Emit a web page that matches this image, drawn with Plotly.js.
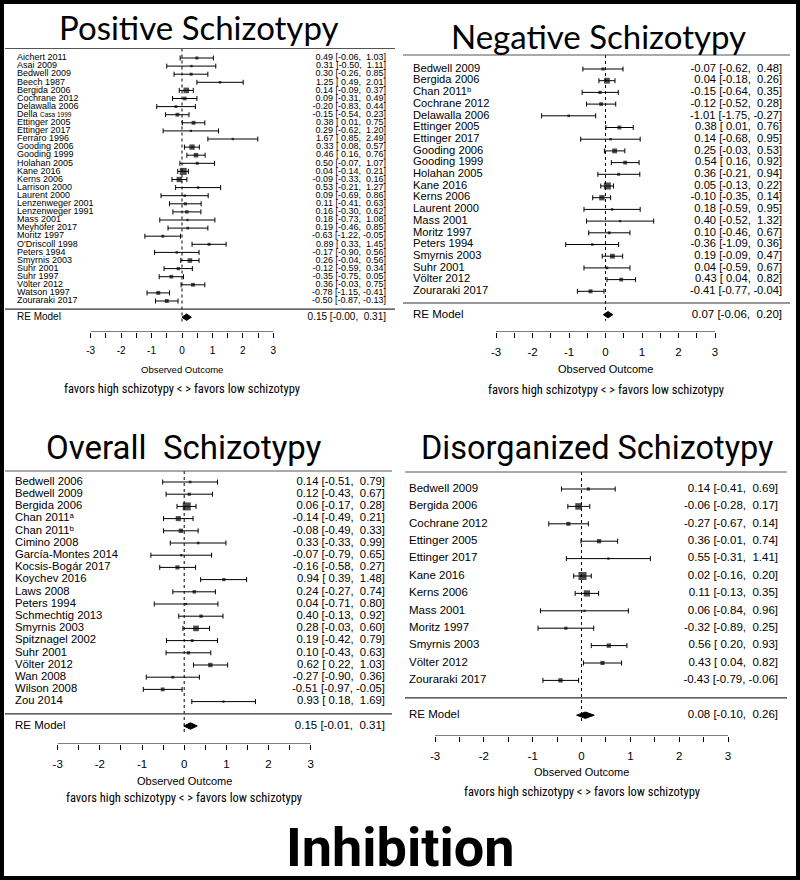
<!DOCTYPE html>
<html><head><meta charset="utf-8">
<script src="https://cdn.plot.ly/plotly-3.0.1.min.js"></script>
<style>html,body{margin:0;padding:0;background:#fff}#chart{width:800px;height:880px}</style>
</head><body><div id="chart"></div>
<script>
// ---------------- DATA ----------------
const posStudies = ['Aichert 2011','Asai 2009','Bedwell 2009','Beech 1987','Bergida 2006','Cochrane 2012','Delawalla 2006',
  'Della <span style="font-size:6.5px">Casa 1999</span>','Ettinger 2005','Ettinger 2017','Ferraro 1996','Gooding 2006','Gooding 1999','Holahan 2005',
  'Kane 2016','Kerns 2006','Larrison 2000','Laurent 2000','Lenzenweger 2001','Lenzenweger 1991','Mass 2001','Meyhöfer 2017',
  'Moritz 1997',"O'Driscoll 1998",'Peters 1994','Smyrnis 2003','Suhr 2001','Suhr 1997','Völter 2012','Watson 1997','Zouraraki 2017'];
const posEst   = [0.49,0.31,0.30,1.25,0.14,0.09,-0.20,-0.15,0.38,0.29,1.67,0.33,0.46,0.50,0.04,-0.09,0.53,0.09,0.11,0.16,0.18,0.19,-0.63,0.89,-0.17,0.26,-0.12,-0.35,0.36,-0.78,-0.50];
const posLower = [-0.06,-0.50,-0.26,0.49,-0.09,-0.31,-0.83,-0.54,0.01,-0.62,0.85,0.08,0.16,-0.07,-0.14,-0.33,-0.21,-0.69,-0.41,-0.30,-0.73,-0.46,-1.22,0.33,-0.90,-0.04,-0.59,-0.75,-0.03,-1.15,-0.87];
const posUpper = [1.03,1.11,0.85,2.01,0.37,0.49,0.44,0.23,0.75,1.20,2.49,0.57,0.76,1.07,0.21,0.16,1.27,0.86,0.63,0.62,1.08,0.85,-0.05,1.45,0.56,0.56,0.34,0.05,0.75,-0.41,-0.13];
const posRE = [0.15, -0.00, 0.31];

const negStudies = ['Bedwell 2009','Bergida 2006','Chan 2011ᵇ','Cochrane 2012','Delawalla 2006','Ettinger 2005','Ettinger 2017',
  'Gooding 2006','Gooding 1999','Holahan 2005','Kane 2016','Kerns 2006','Laurent 2000','Mass 2001','Moritz 1997','Peters 1994',
  'Smyrnis 2003','Suhr 2001','Völter 2012','Zouraraki 2017'];
const negEst   = [-0.07,0.04,-0.15,-0.12,-1.01,0.38,0.14,0.25,0.54,0.36,0.05,-0.10,0.18,0.40,0.10,-0.36,0.19,0.04,0.43,-0.41];
const negLower = [-0.62,-0.18,-0.64,-0.52,-1.75,0.01,-0.68,-0.03,0.16,-0.21,-0.13,-0.35,-0.59,-0.52,-0.46,-1.09,-0.09,-0.59,0.04,-0.77];
const negUpper = [0.48,0.26,0.35,0.28,-0.27,0.76,0.95,0.53,0.92,0.94,0.22,0.14,0.95,1.32,0.67,0.36,0.47,0.67,0.82,-0.04];
const negRE = [0.07, -0.06, 0.20];

const ovStudies = ['Bedwell 2006','Bedwell 2009','Bergida 2006','Chan 2011ᵃ','Chan 2011ᵇ','Cimino 2008',
  'García-Montes 2014','Kocsis-Bogár 2017','Koychev 2016','Laws 2008','Peters 1994','Schmechtig 2013','Smyrnis 2003',
  'Spitznagel 2002','Suhr 2001','Völter 2012','Wan 2008','Wilson 2008','Zou 2014'];
const ovEst   = [0.14,0.12,0.06,-0.14,-0.08,0.33,-0.07,-0.16,0.94,0.24,0.04,0.40,0.28,0.19,0.10,0.62,-0.27,-0.51,0.93];
const ovLower = [-0.51,-0.43,-0.17,-0.49,-0.49,-0.33,-0.79,-0.58,0.39,-0.27,-0.71,-0.13,-0.03,-0.42,-0.43,0.22,-0.90,-0.97,0.18];
const ovUpper = [0.79,0.67,0.28,0.21,0.33,0.99,0.65,0.27,1.48,0.74,0.80,0.92,0.60,0.79,0.63,1.03,0.36,-0.05,1.69];
const ovRE = [0.15, -0.01, 0.31];

const disStudies = ['Bedwell 2009','Bergida 2006','Cochrane 2012','Ettinger 2005','Ettinger 2017','Kane 2016','Kerns 2006',
  'Mass 2001','Moritz 1997','Smyrnis 2003','Völter 2012','Zouraraki 2017'];
const disEst   = [0.14,-0.06,-0.27,0.36,0.55,0.02,0.11,0.06,-0.32,0.56,0.43,-0.43];
const disLower = [-0.41,-0.28,-0.67,-0.01,-0.31,-0.16,-0.13,-0.84,-0.89,0.20,0.04,-0.79];
const disUpper = [0.69,0.17,0.14,0.74,1.41,0.20,0.35,0.96,0.25,0.93,0.82,-0.06];
const disRE = [0.08, -0.10, 0.26];

const tickVals = [-3,-2.5,-2,-1.5,-1,-0.5,0,0.5,1,1.5,2,2.5,3];
const tickText = ['-3',' ','-2',' ','-1',' ','0',' ','1',' ','2',' ','3'];
const axisTitle = 'Observed Outcome';
const favorsText = 'favors high schizotypy &lt; &gt; favors low schizotypy';
const mainTitle = 'Inhibition';

// ---------------- LAYOUT SPECS (pixels) ----------------
const W = 800, H = 880;
const panels = [
 {title:'Positive Schizotypy', studies:posStudies, est:posEst, lo:posLower, hi:posUpper, re:posRE,
  xm3:90.7, xp3:273.3, labelX:17, valueX:386, left:5, right:395, titleX:198, titleY:27, titleSize:33, titleFont:'Lato',
  sepY:48.5, first:58, step:8.1, axisY:332, obsY:370, favY:388, fs:9, reFs:10, maxS:7},
 {title:'Negative Schizotypy', studies:negStudies, est:negEst, lo:negLower, hi:negUpper, re:negRE,
  xm3:496, xp3:715, labelX:413, valueX:782, left:403, right:790, titleX:598, titleY:36, titleSize:33, titleFont:'Lato',
  sepY:55, first:69, step:11.7, axisY:332, obsY:369, favY:389, fs:11.2, reFs:11.5, maxS:7},
 {title:'Overall  Schizotypy', studies:ovStudies, est:ovEst, lo:ovLower, hi:ovUpper, re:ovRE,
  xm3:57.7, xp3:310.7, labelX:15, valueX:385, left:5, right:392, titleX:184, titleY:447, titleSize:33, titleFont:'Roboto',
  sepY:471, first:482, step:12.2, axisY:744, obsY:781, favY:797, fs:11.3, reFs:11.5, maxS:8},
 {title:'Disorganized Schizotypy', studies:disStudies, est:disEst, lo:disLower, hi:disUpper, re:disRE,
  xm3:435, xp3:728, labelX:409, valueX:778, left:405, right:787, titleX:597, titleY:448, titleSize:32.5, titleFont:'Roboto',
  sepY:472, first:489, step:17.4, axisY:736, obsY:772, favY:791, fs:11.5, reFs:11.5, maxS:8}
];

const FONT = 'Liberation Sans, Arial, DejaVu Sans, sans-serif';
const NARROW = 'Liberation Sans Narrow, Roboto Condensed, Roboto, sans-serif';

function fmt(v){ return (v < 0 || Object.is(v, -0)) ? '-' + Math.abs(v).toFixed(2) : v.toFixed(2); }
function pad(s, w){ while (s.length < w) s = ' ' + s; return s; }

const traces = [], shapes = [], annotations = [];
const layout = {width:W, height:H, margin:{l:0,r:0,t:0,b:0}, paper_bgcolor:'#fff', plot_bgcolor:'rgba(0,0,0,0)',
  showlegend:false, hovermode:false};

panels.forEach((p, i) => {
  const sfx = i === 0 ? '' : String(i + 1);
  const xa = 'x' + sfx, ya = 'y' + sfx;
  const n = p.studies.length;
  const unit = (p.xp3 - p.xm3) / 6;
  const zeroPx = (p.xm3 + p.xp3) / 2;
  const px2x = px => (px - zeroPx) / unit;
  const vOf = py => n - (py - p.first) / p.step;
  const vTop = vOf(p.sepY), vBot = vOf(p.axisY);
  const reV = -1;
  const rows = p.studies.map((_, k) => n - k);

  layout['xaxis' + sfx] = {domain:[p.left / W, p.right / W], range:[px2x(p.left), px2x(p.right)], anchor:ya,
    showgrid:false, zeroline:false, showline:false, ticks:'outside', ticklen:5, tickwidth:1, tickcolor:'#000',
    tickmode:'array', tickvals:tickVals, ticktext:tickText, ticklabelstandoff:4,
    tickfont:{family:FONT, size:p.reFs, color:'#000'}, fixedrange:true};
  layout['yaxis' + sfx] = {domain:[1 - p.axisY / H, 1 - p.sepY / H], range:[vBot, vTop], anchor:xa, visible:false, fixedrange:true};

  // axis line from -3 to 3
  shapes.push({type:'line', xref:xa, yref:ya, x0:tickVals[0], x1:tickVals[tickVals.length - 1], y0:vBot, y1:vBot,
    line:{color:'#000', width:1}});

  // marker sizes from inverse standard error
  const w = p.lo.map((l, k) => 3.92 / (p.hi[k] - l));
  const wmin = Math.min(...w), wmax = Math.max(...w);
  const sizes = w.map(v => 2.3 + (v - wmin) / (wmax - wmin) * (p.maxS - 2.3));

  traces.push({type:'scatter', mode:'markers', xaxis:xa, yaxis:ya, x:p.est, y:rows,
    marker:{symbol:'square', color:'#000', size:sizes, line:{width:0}},
    error_x:{type:'data', symmetric:false, array:p.hi.map((h, k) => h - p.est[k]), arrayminus:p.lo.map((l, k) => p.est[k] - l),
      color:'#000', thickness:1, width:2.5},
    cliponaxis:false, hoverinfo:'skip'});

  // RE diamond
  const h = 3.2 / p.step;
  traces.push({type:'scatter', mode:'lines', xaxis:xa, yaxis:ya,
    x:[p.re[1], p.re[0], p.re[2], p.re[0], p.re[1]], y:[reV, reV + h, reV, reV - h, reV],
    fill:'toself', fillcolor:'#000', line:{color:'#000', width:1}, cliponaxis:false, hoverinfo:'skip'});

  // value column strings
  const estS = p.est.concat([p.re[0]]).map(fmt);
  const loS = p.lo.concat([p.re[1]]).map(fmt);
  const hiS = p.hi.concat([p.re[2]]).map(fmt);
  const wE = Math.max(...estS.map(s => s.length)), wL = Math.max(...loS.map(s => s.length)), wH = Math.max(...hiS.map(s => s.length));
  const vals = estS.map((s, k) => pad(s, wE) + ' [' + pad(loS[k], wL) + ', ' + pad(hiS[k], wH) + ']');

  // study labels and values
  traces.push({type:'scatter', mode:'text', xaxis:xa, yaxis:ya,
    x:rows.map(() => px2x(p.labelX)), y:rows, text:p.studies, textposition:'middle right',
    textfont:{family:FONT, size:p.fs, color:'#000'}, cliponaxis:false, hoverinfo:'skip'});
  traces.push({type:'scatter', mode:'text', xaxis:xa, yaxis:ya,
    x:rows.map(() => px2x(p.valueX)), y:rows, text:vals.slice(0, n), textposition:'middle left',
    textfont:{family:FONT, size:p.fs, color:'#000'}, cliponaxis:false, hoverinfo:'skip'});
  // RE row texts
  traces.push({type:'scatter', mode:'text', xaxis:xa, yaxis:ya,
    x:[px2x(p.labelX)], y:[reV], text:['RE Model'], textposition:'middle right',
    textfont:{family:FONT, size:p.reFs, color:'#000'}, cliponaxis:false, hoverinfo:'skip'});
  traces.push({type:'scatter', mode:'text', xaxis:xa, yaxis:ya,
    x:[px2x(p.valueX)], y:[reV], text:[vals[n]], textposition:'middle left',
    textfont:{family:FONT, size:p.reFs, color:'#000'}, cliponaxis:false, hoverinfo:'skip'});

  // reference dotted line at 0
  shapes.push({type:'line', xref:xa, yref:ya, x0:0, x1:0, y0:vTop, y1:reV - 6 / p.step, line:{color:'#000', width:1, dash:'dot'}});
  // separator above RE
  shapes.push({type:'line', xref:'paper', yref:ya, x0:p.left / W, x1:p.right / W, y0:0, y1:0, line:{color:'#333', width:1.2}});
  // separator under title
  shapes.push({type:'line', xref:'paper', yref:'paper', x0:p.left / W, x1:p.right / W, y0:1 - p.sepY / H, y1:1 - p.sepY / H, line:{color:'#555', width:1.2}});

  annotations.push({xref:'paper', yref:'paper', x:p.titleX / W, y:1 - p.titleY / H, xanchor:'center', yanchor:'middle',
    text:p.title, showarrow:false, font:{family:p.titleFont, size:p.titleSize, color:'#000'}});
  annotations.push({xref:'paper', yref:'paper', x:zeroPx / W, y:1 - p.obsY / H, xanchor:'center', yanchor:'middle',
    text:axisTitle, showarrow:false, font:{family:FONT, size:p.reFs - 0.5, color:'#000'}});
  annotations.push({xref:'paper', yref:'paper', x:zeroPx / W, y:1 - p.favY / H, xanchor:'center', yanchor:'middle',
    text:favorsText, showarrow:false, font:{family:NARROW, size:12.5, color:'#000'}});
});

annotations.push({xref:'paper', yref:'paper', x:0.5, y:1 - 847 / H, xanchor:'center', yanchor:'middle',
  text:'<b>' + mainTitle + '</b>', showarrow:false, font:{family:'Roboto', size:54, color:'#000', weight:900}});

// outer frame
shapes.push({type:'rect', xref:'paper', yref:'paper', x0:2 / W, x1:1 - 2 / W, y0:2 / H, y1:1 - 2 / H, line:{color:'#000', width:4}});

layout.shapes = shapes;
layout.annotations = annotations;

Plotly.newPlot('chart', traces, layout, {staticPlot:true, displayModeBar:false});
</script>
</body></html>
